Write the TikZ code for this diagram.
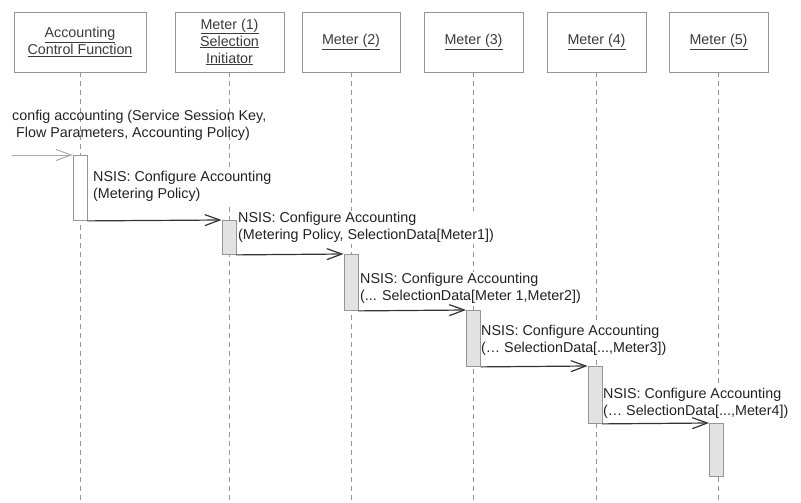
\documentclass[tikz,border=0pt]{standalone}
\usepackage{fontspec}
\setmainfont{Liberation Sans}
\usepackage{xcolor}
\usetikzlibrary{arrows.meta}
\definecolor{frame}{HTML}{959595}
\definecolor{ink}{HTML}{222222}
\definecolor{head}{HTML}{3A3A3A}
\definecolor{shade}{HTML}{E2E2E2}
\definecolor{wire}{HTML}{333333}
\tikzset{
  box/.style={draw=frame, line width=0.9pt, text=head, align=center, minimum height=60pt, inner sep=0pt},
  life/.style={draw=frame, dash pattern=on 5pt off 4pt, line width=0.9pt},
  bar/.style={draw=frame, fill=shade, line width=0.9pt, minimum width=14pt, inner sep=0pt, anchor=north},
  call/.style={draw=wire, line width=1.2pt, -{Straight Barb[length=15pt,width=11pt]}},
  callin/.style={draw=frame!80, line width=1.0pt, -{Straight Barb[length=15pt,width=11pt]}},
  lab/.style={text=ink, align=left, anchor=west, inner sep=1pt},
  labw/.style={lab, fill=white},
}

\begin{document}
\begin{tikzpicture}[x=1pt, y=-1pt, font=\fontsize{14.3}{17}\selectfont]
  \useasboundingbox (0,0) rectangle (801,503);
  \coordinate (bottom) at (0,503);
  \coordinate (src) at (12,155);
  % heads
  \node[box, minimum width=132pt] (acf) at (80,42) {\underline{Accounting}\\\underline{Control Function}};
  \node[box, minimum width=109pt] (m1) at (229.5,42) {\underline{Meter (1)}\\\underline{Selection}\\\underline{Initiator}};
  \node[box, minimum width=98pt] (m2) at (351,42) {\underline{Meter (2)}};
  \node[box, minimum width=99pt] (m3) at (473.5,42) {\underline{Meter (3)}};
  \node[box, minimum width=99pt] (m4) at (596.5,42) {\underline{Meter (4)}};
  \node[box, minimum width=99pt] (m5) at (718.5,42) {\underline{Meter (5)}};
  % lifelines
  \foreach \n in {acf,m1,m2,m3,m4,m5}
    \draw[life] (\n.south) -- (\n.south |- bottom);
  % labels
  \node[lab] (msg0) at (11,125) {config accounting (Service Session Key,\\\hspace*{4pt}Flow Parameters, Accounting Policy)};
  \node[labw] (msg1) at (92,186.5) {NSIS: Configure Accounting\\(Metering Policy)};
  \node[labw] (msg2) at (237,227.5) {NSIS: Configure Accounting\\(Metering Policy, SelectionData[Meter1])};
  \node[labw] (msg3) at (359,288.5) {NSIS: Configure Accounting\\(... SelectionData[Meter 1,Meter2])};
  \node[labw] (msg4) at (480,340) {NSIS: Configure Accounting\\(… SelectionData[...,Meter3])};
  \node[labw] (msg5) at (602,403) {NSIS: Configure Accounting\\(… SelectionData[...,Meter4])};
  % activations
  \node[bar, fill=white, minimum height=65pt] (act0) at (80,155) {};
  \node[bar, minimum height=34pt] (act1) at (229,220) {};
  \node[bar, minimum height=56pt] (act2) at (351,254) {};
  \node[bar, minimum height=56pt] (act3) at (473.5,310) {};
  \node[bar, minimum height=57pt] (act4) at (595,366) {};
  \node[bar, minimum height=53pt] (act5) at (716.5,423) {};
  % messages
  \draw[callin] (src) -- (act0.north west);
  \draw[call] (act0.south east) -- (act1.north west);
  \draw[call] (act1.south east) -- (act2.north west);
  \draw[call] (act2.south east) -- (act3.north west);
  \draw[call] (act3.south east) -- (act4.north west);
  \draw[call] (act4.south east) -- (act5.north west);
\end{tikzpicture}
\end{document}
